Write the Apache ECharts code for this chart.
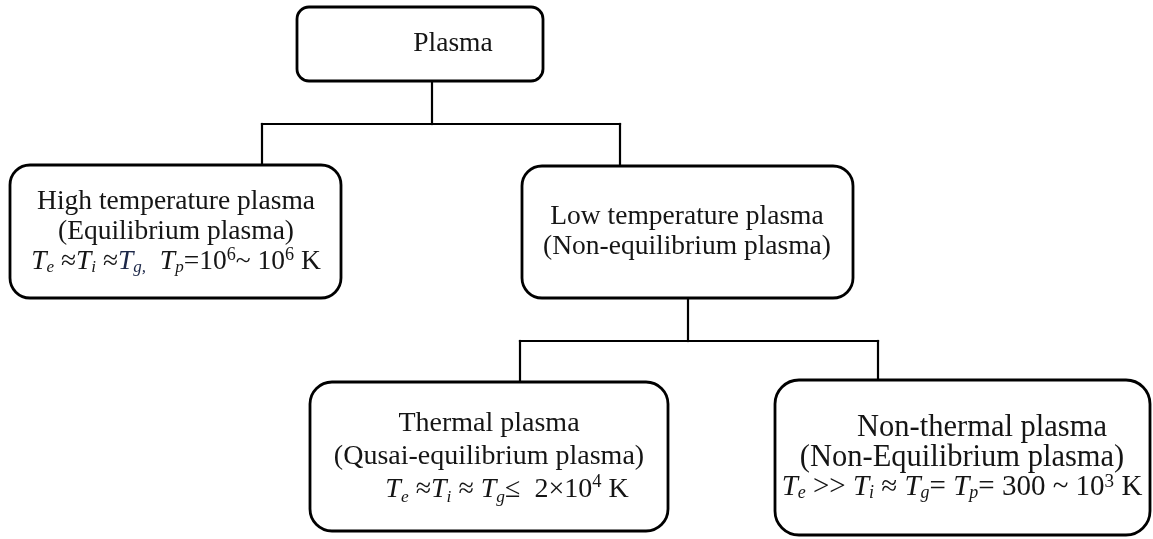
<!DOCTYPE html>
<html>
<head>
<meta charset="utf-8">
<script src="https://cdn.jsdelivr.net/npm/echarts@6/dist/echarts.min.js"></script>
<style>
html, body { margin: 0; background: #fff; }
#chart { width: 1153px; height: 539px; }
</style>
</head>
<body>
<div id="chart"></div>
<script>
// node labels (rich text, one line per entry)
const nodeText = [
    'Plasma',
    'High temperature plasma\n(Equilibrium plasma)\n{i|T}{sb|e}{m| ≈}{i|T}{sb|i}{m| ≈}{ib|T}{sbb|g,}{m|  }{i|T}{sb|p}{m|=10}{sp|6}{m|~ 10}{sp|6}{m| K}',
    'Low temperature plasma\n(Non-equilibrium plasma)',
    'Thermal plasma\n(Qusai-equilibrium plasma)\n{gap| }{i|T}{sb|e}{m| ≈}{i|T}{sb|i}{m| ≈ }{i|T}{sb|g}{m|≤  2×10}{sp|4}{m| K}',
    '{gap2| }Non-thermal plasma\n(Non-Equilibrium plasma)\n{i|T}{sb|e}{m| >> }{i|T}{sb|i}{m| ≈ }{i|T}{sb|g}{m|= }{i|T}{sb|p}{m|= 300 ~ 10}{sp|3}{m| K}'
];
// box extents in page units: [x0, y0, x1, y1]
const boxes = [
    [297, 7, 543, 81],
    [10, 165, 341, 298],
    [522, 166, 853, 298],
    [310, 382, 668, 531],
    [775, 380, 1150, 535]
];
const textCenterX = [453, 176, 687, 489, 962];
const fontSizes = [27.5, 27.5, 27.5, 28, 30.5];
const formulaSizes = [27.5, 27.5, 27.5, 28, 29];
const lineHeights = [30, 30, 30, 33, 30];
const cornerR = [12, 20, 20, 22, 24];
// elbow connectors: parent anchor, bus height, child anchors
const links = [
    { from: [432, 81], busY: 124, to: [[262, 165], [620, 166]] },
    { from: [688, 298], busY: 341, to: [[520, 382], [878, 381]] }
];

const segments = [];
links.forEach(l => {
    segments.push([l.from[0], l.from[1], l.from[0], l.busY]);
    const xs = l.to.map(t => t[0]);
    segments.push([Math.min(...xs), l.busY, Math.max(...xs), l.busY]);
    l.to.forEach(t => segments.push([t[0], l.busY, t[0], t[1]]));
});

const FONT = "'Liberation Serif', 'Times New Roman', serif";
const INK = '#151515';
const NAVY = '#1c2748';

const myChart = echarts.init(document.getElementById('chart'));
const option = {
    animation: false,
    grid: { left: 0, right: 0, top: 0, bottom: 0 },
    xAxis: { type: 'value', min: 0, max: 1153, show: false },
    yAxis: { type: 'value', min: 0, max: 539, inverse: true, show: false },
    series: [
        {
            type: 'custom',
            z: 1,
            data: segments,
            renderItem: (params, api) => {
                const a = api.coord([api.value(0), api.value(1)]);
                const b = api.coord([api.value(2), api.value(3)]);
                return {
                    type: 'line',
                    shape: { x1: a[0], y1: a[1], x2: b[0], y2: b[1] },
                    style: { stroke: '#000', lineWidth: 2.2, lineCap: 'square' }
                };
            }
        },
        {
            type: 'custom',
            z: 2,
            data: boxes,
            renderItem: (params, api) => {
                const i = params.dataIndex;
                const p0 = api.coord([api.value(0), api.value(1)]);
                const p1 = api.coord([api.value(2), api.value(3)]);
                const cx = api.coord([textCenterX[i], 0])[0];
                const lh = lineHeights[i];
                const fs = fontSizes[i];
                const ff = formulaSizes[i];
                const sub = ff * 0.62;
                const sup = ff * 0.66;
                const base = { fontFamily: FONT, fontSize: fs, lineHeight: lh, fill: INK };
                const formula = { fontFamily: FONT, fontSize: ff, lineHeight: lh, fill: INK };
                return {
                    type: 'group',
                    children: [
                        {
                            type: 'rect',
                            shape: { x: p0[0], y: p0[1], width: p1[0] - p0[0], height: p1[1] - p0[1], r: cornerR[i] },
                            style: { fill: '#fff', stroke: '#000', lineWidth: 2.8 }
                        },
                        {
                            type: 'text',
                            x: cx,
                            y: (p0[1] + p1[1]) / 2,
                            style: {
                                text: nodeText[i],
                                align: 'center',
                                verticalAlign: 'middle',
                                fontFamily: FONT,
                                fontSize: fs,
                                lineHeight: lh,
                                fill: INK,
                                rich: {
                                    m: formula,
                                    i: Object.assign({}, formula, { fontStyle: 'italic' }),
                                    ib: Object.assign({}, formula, { fontStyle: 'italic', fill: NAVY }),
                                    sb: { fontFamily: FONT, fontSize: sub, fontStyle: 'italic', lineHeight: 10, verticalAlign: 'bottom', fill: INK },
                                    sbb: { fontFamily: FONT, fontSize: sub, fontStyle: 'italic', lineHeight: 10, verticalAlign: 'bottom', fill: NAVY },
                                    sp: { fontFamily: FONT, fontSize: sup, lineHeight: 16, verticalAlign: 'top', fill: INK },
                                    gap: Object.assign({}, formula, { width: 36 }),
                                    gap2: Object.assign({}, base, { width: 40 })
                                }
                            }
                        }
                    ]
                };
            }
        }
    ]
};
myChart.setOption(option);
</script>
</body>
</html>
